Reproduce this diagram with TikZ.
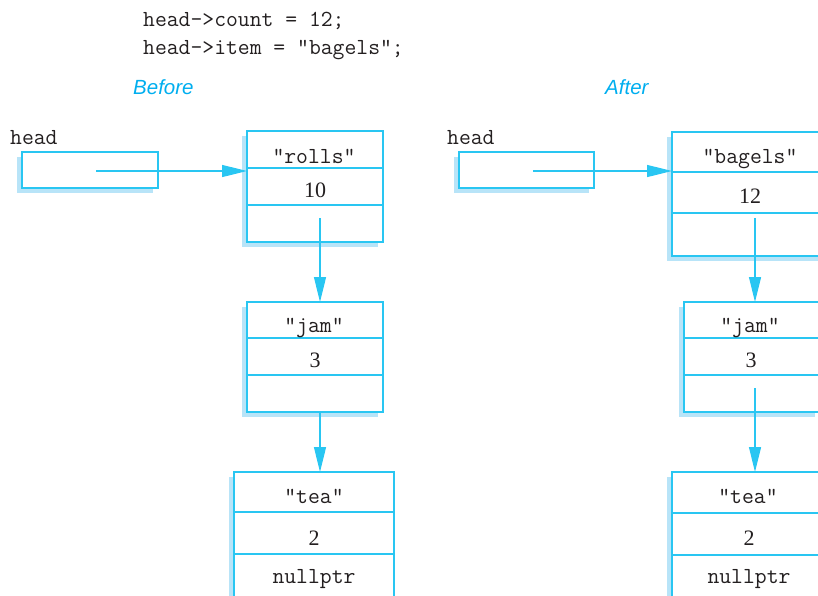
\documentclass[tikz,border=0pt]{standalone}
\usepackage{fontspec}
\setmainfont{Liberation Serif}
\setsansfont{Liberation Sans}
\usetikzlibrary{shadows,arrows.meta}
\definecolor{lc}{RGB}{41,198,242}
\definecolor{sc}{RGB}{184,228,248}
\definecolor{tc}{RGB}{35,31,32}
\definecolor{hc}{RGB}{0,174,239}
\tikzset{
 rec/.style={draw=lc, line width=1.3pt, fill=white, inner sep=0pt, outer sep=0pt,
   general shadow={fill=sc, shadow xshift=-5pt, shadow yshift=-5pt}},
 div/.style={draw=lc, line width=1.3pt},
 ptr/.style={draw=lc, line width=1.2pt, -{Triangle[length=25pt,width=12pt]}},
 mono/.style={font=\fontsize{23}{27}\selectfont\ttfamily, text=tc, inner sep=0pt, anchor=base},
 num/.style={font=\fontsize{22}{26}\selectfont, text=tc, inner sep=0pt, anchor=base},
 lab/.style={font=\fontsize{20.5}{24}\selectfont\sffamily\itshape, text=hc, inner sep=0pt, anchor=base west},
}
\begin{document}
\begin{tikzpicture}[x=1pt,y=-1pt]
\useasboundingbox (0,0) rectangle (818,595);
\clip (0,0) rectangle (818,595);
% code lines
\node[mono, anchor=base west] (c1) at (143,26) {head->count = 12;};
\node[mono, anchor=base west] (c2) at (143,54) {head->item = "bagels";};
% titles
\node[lab] (lb) at (133,94) {Before};
\node[lab] (la) at (605,94) {After};
% head labels
\node[mono, anchor=base west] (hl) at (10,144) {head};
\node[mono, anchor=base west] (hr) at (447,144) {head};
% boxes (left)
\node[rec, minimum width=136pt, minimum height=36pt] (hbL) at (90,170) {};
\node[rec, minimum width=136pt, minimum height=111pt] (r1) at (315,186.5) {};
\node[rec, minimum width=136pt, minimum height=110pt] (j1) at (315,357) {};
\node[rec, minimum width=160pt, minimum height=128pt] (t1) at (314,536) {};
% boxes (right)
\node[rec, minimum width=135pt, minimum height=36pt] (hbR) at (526.5,170) {};
\node[rec, minimum width=160pt, minimum height=124pt] (r2) at (752,194) {};
\node[rec, minimum width=136pt, minimum height=110pt] (j2) at (752,357) {};
\node[rec, minimum width=160pt, minimum height=128pt] (t2) at (752,536) {};
% dividers
\draw[div] (r1.west |- 0,168) -- (r1.east |- 0,168);
\draw[div] (r1.west |- 0,205) -- (r1.east |- 0,205);
\draw[div] (j1.west |- 0,338) -- (j1.east |- 0,338);
\draw[div] (j1.west |- 0,375) -- (j1.east |- 0,375);
\draw[div] (t1.west |- 0,512) -- (t1.east |- 0,512);
\draw[div] (t1.west |- 0,554) -- (t1.east |- 0,554);
\draw[div] (r2.west |- 0,172) -- (r2.east |- 0,172);
\draw[div] (r2.west |- 0,213) -- (r2.east |- 0,213);
\draw[div] (j2.west |- 0,338) -- (j2.east |- 0,338);
\draw[div] (j2.west |- 0,375) -- (j2.east |- 0,375);
\draw[div] (t2.west |- 0,513) -- (t2.east |- 0,513);
\draw[div] (t2.west |- 0,555) -- (t2.east |- 0,555);
% cell texts (left)
\node[mono] (s1) at (314,163) {"rolls"};
\node[num] (n1) at (315,197) {10};
\node[mono] (s2) at (314,332) {"jam"};
\node[num] (n2) at (315,367) {3};
\node[mono] (s3) at (314,503) {"tea"};
\node[num] (n3) at (314,545) {2};
\node[mono] (np1) at (314,583) {nullptr};
% cell texts (right)
\node[mono] (s4) at (750,163) {"bagels"};
\node[num] (n4) at (750,203) {12};
\node[mono] (s5) at (750,332) {"jam"};
\node[num] (n5) at (751,367) {3};
\node[mono] (s6) at (748,503) {"tea"};
\node[num] (n6) at (749,545) {2};
\node[mono] (np2) at (749,583) {nullptr};
% pointers
\coordinate (pL) at (96,171);
\coordinate (pR) at (533,171);
\coordinate (q1) at (320,218);
\coordinate (q2) at (320,412);
\coordinate (q3) at (755,218);
\coordinate (q4) at (755,388);
\draw[ptr] (pL) -- (pL -| r1.west);
\draw[ptr] (pR) -- (pR -| r2.west);
\draw[ptr] (q1) -- (q1 |- j1.north);
\draw[ptr] (q2) -- (q2 |- t1.north);
\draw[ptr] (q3) -- (q3 |- j2.north);
\draw[ptr] (q4) -- (q4 |- t2.north);
\end{tikzpicture}
\end{document}
